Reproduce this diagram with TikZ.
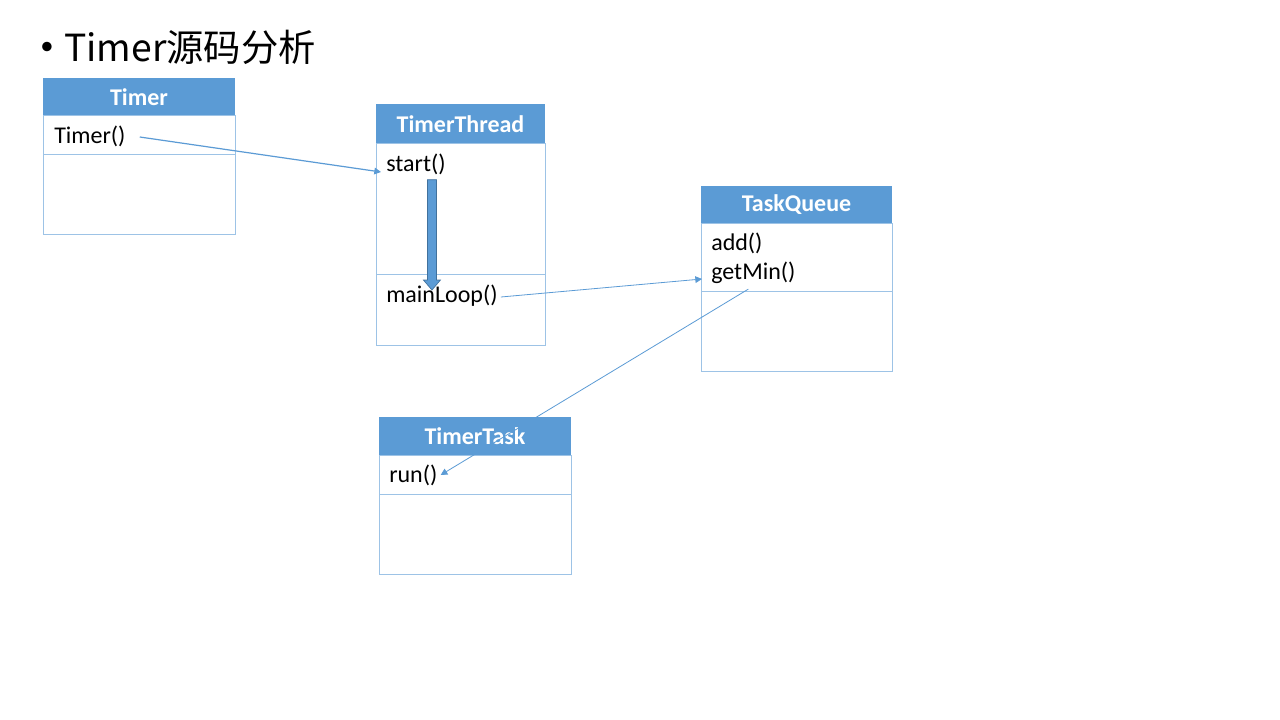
\documentclass[tikz,border=0pt]{standalone}
\usepackage{fontspec}
\setmainfont{Carlito}
\newfontfamily\cjkfont{Noto Sans CJK SC}
\usetikzlibrary{arrows.meta,calc}
\definecolor{headblue}{HTML}{5B9BD5}
\definecolor{edgeblue}{HTML}{9DC3E6}
\definecolor{darkblue}{HTML}{41719C}
\tikzset{
  classtitle/.style={text=white, font=\bfseries\fontsize{18}{21}\selectfont},
  member/.style={anchor=west, inner sep=0pt, font=\fontsize{18}{21}\selectfont},
  call/.style={draw=headblue, line width=0.9pt, -{Triangle[length=5pt,width=5pt]}},
}
\begin{document}
\begin{tikzpicture}[x=0.75pt,y=-0.75pt]
  \useasboundingbox[fill=white] (0,0) rectangle (1280,720);
  % title
  \node[anchor=base west, inner sep=0pt, font=\cjkfont\fontsize{28}{34}\selectfont] (title) at (64,62) {Timer源码分析};
  \node[inner sep=0pt, font=\fontsize{20}{24}\selectfont] (bullet) at (47,48) {•};
  % classes: name/title/left/right/top/head/sep/bottom
  \foreach \n/\t/\xa/\xb/\ya/\yb/\yc/\yd in {timer/Timer/43/235/78/116/155/235,
      thread/TimerThread/376/545/104/144/274/345,
      queue/TaskQueue/701/892/186/224/291/371,
      task/TimerTask/379/571/417/455/494/574} {
    \fill[headblue] (\xa,\ya) rectangle (\xb,\yb);
    \draw[edgeblue, line width=0.75pt] (\xa,\yb) rectangle (\xb,\yd) (\xa,\yc) -- (\xb,\yc);
    \node[classtitle] (\n) at ({(\xa+\xb)/2},{(\ya+\yb)/2}) {\t};
  }
  % members
  \node[member] (timerctor) at (54,136) {Timer()};
  \node[member] (start) at (386,164) {start()};
  \node[member] (mainloop) at (386,296) {mainLoop()};
  \node[member] (add) at (711,243) {add()};
  \node[member] (getmin) at (711,273) {getMin()};
  \node[member] (run) at (389,475) {run()};
  % calls
  \draw[call] ($(timerctor.east)+(14,1)$) -- ($(start.west)+(-5,8)$);
  \draw[call, line width=0.6pt] ($(mainloop.east)+(3,1)$) -- ($(getmin.west)+(-9,6)$);
  \draw[call, line width=0.6pt] ($(getmin.south)+(-5,5)$) -- ($(run.east)+(3,0)$);
  % block arrow start -> mainLoop
  \coordinate (flowtop) at ($(start.south)+(16,5)$);
  \coordinate (flowtip) at ($(mainloop.north)+(-10,5)$);
  \filldraw[fill=headblue, draw=darkblue, line width=0.5pt]
    ($(flowtop)+(-4.5,0)$) -- ($(flowtop)+(4.5,0)$) -- ($(flowtip)+(4.5,-10)$)
    -- ($(flowtip)+(8.5,-10)$) -- (flowtip) -- ($(flowtip)+(-8.5,-10)$)
    -- ($(flowtip)+(-4.5,-10)$) -- cycle;
\end{tikzpicture}
\end{document}
